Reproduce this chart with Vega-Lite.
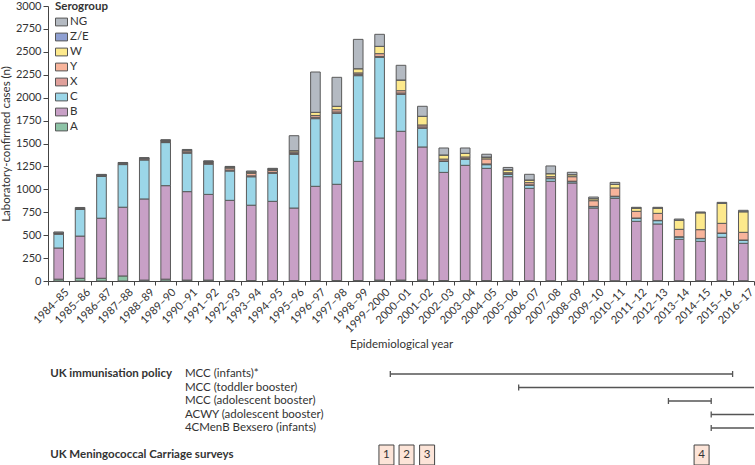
{
  "$schema": "https://vega.github.io/schema/vega-lite/v6.json",
  "padding": {"left": 0, "top": 0, "right": 0, "bottom": 0},
  "spacing": 18,
  "config": {
    "view": {"stroke": null},
    "font": "Lato",
    "axis": {
      "labelFont": "Lato",
      "titleFont": "Lato",
      "labelFontSize": 11,
      "titleFontSize": 11.5,
      "titleFontWeight": "normal",
      "labelColor": "#333333",
      "titleColor": "#333333",
      "domainColor": "#444444",
      "tickColor": "#444444",
      "grid": false
    },
    "legend": {"labelFont": "Lato", "titleFont": "Lato"},
    "text": {"font": "Lato"}
  },
  "datasets": {
    "cases": [
      {"year": "1984–85", "A": 20, "B": 340, "C": 150, "X": 10, "Y": 5, "W": 0, "Z/E": 0, "NG": 10},
      {"year": "1985–86", "A": 30, "B": 460, "C": 290, "X": 10, "Y": 0, "W": 0, "Z/E": 0, "NG": 12},
      {"year": "1986–87", "A": 30, "B": 655, "C": 455, "X": 10, "Y": 5, "W": 0, "Z/E": 0, "NG": 8},
      {"year": "1987–88", "A": 55, "B": 750, "C": 465, "X": 10, "Y": 5, "W": 0, "Z/E": 0, "NG": 8},
      {"year": "1988–89", "A": 10, "B": 885, "C": 425, "X": 10, "Y": 8, "W": 0, "Z/E": 0, "NG": 8},
      {"year": "1989–90", "A": 20, "B": 1020, "C": 470, "X": 10, "Y": 12, "W": 0, "Z/E": 0, "NG": 10},
      {"year": "1990–91", "A": 10, "B": 965, "C": 420, "X": 10, "Y": 15, "W": 5, "Z/E": 0, "NG": 10},
      {"year": "1991–92", "A": 10, "B": 935, "C": 330, "X": 8, "Y": 10, "W": 12, "Z/E": 0, "NG": 5},
      {"year": "1992–93", "A": 5, "B": 875, "C": 320, "X": 10, "Y": 22, "W": 12, "Z/E": 0, "NG": 6},
      {"year": "1993–94", "A": 5, "B": 822, "C": 310, "X": 10, "Y": 28, "W": 15, "Z/E": 0, "NG": 10},
      {"year": "1994–95", "A": 5, "B": 864, "C": 306, "X": 10, "Y": 20, "W": 15, "Z/E": 0, "NG": 9},
      {"year": "1995–96", "A": 5, "B": 791, "C": 586, "X": 10, "Y": 15, "W": 15, "Z/E": 0, "NG": 163},
      {"year": "1996–97", "A": 5, "B": 1028, "C": 738, "X": 15, "Y": 20, "W": 34, "Z/E": 0, "NG": 440},
      {"year": "1997–98", "A": 5, "B": 1050, "C": 774, "X": 15, "Y": 25, "W": 37, "Z/E": 0, "NG": 316},
      {"year": "1998–99", "A": 5, "B": 1300, "C": 935, "X": 15, "Y": 15, "W": 46, "Z/E": 0, "NG": 320},
      {"year": "1999–2000", "A": 10, "B": 1550, "C": 880, "X": 10, "Y": 30, "W": 80, "Z/E": 0, "NG": 131},
      {"year": "2000–01", "A": 10, "B": 1623, "C": 403, "X": 15, "Y": 25, "W": 117, "Z/E": 0, "NG": 160},
      {"year": "2001–02", "A": 10, "B": 1452, "C": 204, "X": 15, "Y": 21, "W": 95, "Z/E": 0, "NG": 109},
      {"year": "2002–03", "A": 5, "B": 1180, "C": 120, "X": 5, "Y": 20, "W": 45, "Z/E": 0, "NG": 76},
      {"year": "2003–04", "A": 5, "B": 1257, "C": 65, "X": 8, "Y": 18, "W": 40, "Z/E": 0, "NG": 58},
      {"year": "2004–05", "A": 5, "B": 1224, "C": 40, "X": 8, "Y": 55, "W": 20, "Z/E": 0, "NG": 31},
      {"year": "2005–06", "A": 3, "B": 1135, "C": 26, "X": 5, "Y": 12, "W": 30, "Z/E": 3, "NG": 25},
      {"year": "2006–07", "A": 3, "B": 1008, "C": 33, "X": 5, "Y": 24, "W": 29, "Z/E": 0, "NG": 62},
      {"year": "2007–08", "A": 3, "B": 1085, "C": 28, "X": 5, "Y": 17, "W": 33, "Z/E": 0, "NG": 84},
      {"year": "2008–09", "A": 3, "B": 1066, "C": 15, "X": 5, "Y": 49, "W": 22, "Z/E": 0, "NG": 26},
      {"year": "2009–10", "A": 3, "B": 793, "C": 15, "X": 3, "Y": 62, "W": 22, "Z/E": 0, "NG": 18},
      {"year": "2010–11", "A": 3, "B": 899, "C": 18, "X": 5, "Y": 90, "W": 40, "Z/E": 0, "NG": 21},
      {"year": "2011–12", "A": 3, "B": 648, "C": 33, "X": 3, "Y": 73, "W": 36, "Z/E": 0, "NG": 8},
      {"year": "2012–13", "A": 3, "B": 619, "C": 36, "X": 3, "Y": 77, "W": 58, "Z/E": 0, "NG": 8},
      {"year": "2013–14", "A": 3, "B": 452, "C": 25, "X": 3, "Y": 81, "W": 101, "Z/E": 0, "NG": 11},
      {"year": "2014–15", "A": 3, "B": 430, "C": 29, "X": 3, "Y": 95, "W": 185, "Z/E": 0, "NG": 8},
      {"year": "2015–16", "A": 3, "B": 474, "C": 43, "X": 3, "Y": 106, "W": 219, "Z/E": 0, "NG": 10},
      {"year": "2016–17", "A": 3, "B": 408, "C": 33, "X": 3, "Y": 84, "W": 225, "Z/E": 0, "NG": 15}
    ],
    "policies": [
      {"policy": "MCC (infants)*", "start": 2000.0, "end": 2016.0},
      {"policy": "MCC (toddler booster)", "start": 2006.0, "end": 2017.0},
      {"policy": "MCC (adolescent booster)", "start": 2013.0, "end": 2015.0},
      {"policy": "ACWY (adolescent booster)", "start": 2015.0, "end": 2017.0},
      {"policy": "4CMenB Bexsero (infants)", "start": 2015.0, "end": 2017.0}
    ],
    "sections": [
      {"section": "UK immunisation policy", "row": "MCC (infants)*"},
      {"section": "UK Meningococcal Carriage surveys", "row": "surveys"}
    ],
    "surveys": [
      {"survey": "1", "year": 1999.82, "row": "surveys"},
      {"survey": "2", "year": 2000.76, "row": "surveys"},
      {"survey": "3", "year": 2001.72, "row": "surveys"},
      {"survey": "4", "year": 2014.55, "row": "surveys"}
    ]
  },
  "vconcat": [
    {
      "width": 706,
      "height": 275,
      "data": {"name": "cases"},
      "transform": [
        {"fold": ["A", "B", "C", "X", "Y", "W", "Z/E", "NG"], "as": ["serogroup", "n"]},
        {"calculate": "indexof(['A','B','C','X','Y','W','Z/E','NG'], datum.serogroup)", "as": "stackOrder"}
      ],
      "mark": {"type": "bar", "width": {"band": 0.45}, "stroke": "#5a5a5a", "strokeWidth": 1},
      "encoding": {
        "x": {
          "field": "year", "type": "ordinal", "sort": null,
          "scale": {"paddingInner": 0, "paddingOuter": 0},
          "axis": {
            "title": "Epidemiological year",
            "labelAngle": -45,
            "tickBand": "extent",
            "tickSize": 4,
            "labelOffset": 4,
            "labelPadding": 1,
            "titlePadding": 4
          }
        },
        "y": {
          "field": "n", "type": "quantitative", "stack": "zero",
          "scale": {"domain": [0, 3000]},
          "axis": {
            "title": "Laboratory-confirmed cases (n)",
            "values": [0, 250, 500, 750, 1000, 1250, 1500, 1750, 2000, 2250, 2500, 2750, 3000],
            "format": "d",
            "tickSize": 5,
            "labelPadding": 2,
            "titlePadding": 4
          }
        },
        "color": {
          "field": "serogroup", "type": "nominal",
          "scale": {
            "domain": ["NG", "Z/E", "W", "Y", "X", "C", "B", "A"],
            "range": ["#B4BAC2", "#8FA0D2", "#FDE98C", "#F8B49B", "#E0A09B", "#9BD6E8", "#C8A0C6", "#8DC3A6"]
          },
          "legend": {
            "title": "Serogroup",
            "orient": "none",
            "legendX": 7,
            "legendY": -5,
            "titleFontSize": 11.5,
            "titleFontWeight": "bold",
            "titleColor": "#333333",
            "titlePadding": 3,
            "labelFontSize": 11.5,
            "labelColor": "#333333",
            "labelOffset": 2,
            "symbolType": "M-1,-0.65H1V0.65H-1Z",
            "symbolSize": 144,
            "symbolStrokeColor": "#555555",
            "symbolStrokeWidth": 1,
            "symbolOpacity": 1,
            "rowPadding": 2
          }
        },
        "order": {"field": "stackOrder", "type": "quantitative", "sort": "ascending"}
      }
    },
    {
      "width": 706,
      "height": 81,
      "layer": [
        {
          "data": {"name": "policies"},
          "mark": {"type": "rule", "stroke": "#555555", "strokeWidth": 1.3},
          "encoding": {
            "x": {"field": "start", "type": "quantitative", "scale": {"domain": [1984, 2017], "nice": false, "zero": false}, "axis": null},
            "x2": {"field": "end"},
            "y": {
              "field": "policy", "type": "nominal",
              "scale": {"type": "point", "padding": 0, "domain": ["MCC (infants)*", "MCC (toddler booster)", "MCC (adolescent booster)", "ACWY (adolescent booster)", "4CMenB Bexsero (infants)", "gap", "surveys"]},
              "axis": null
            }
          }
        },
        {
          "data": {"name": "policies"},
          "mark": {"type": "tick", "orient": "vertical", "size": 6, "thickness": 1.3, "color": "#555555", "opacity": 1},
          "encoding": {
            "x": {"field": "start", "type": "quantitative"},
            "y": {"field": "policy", "type": "nominal"}
          }
        },
        {
          "data": {"name": "policies"},
          "transform": [{"filter": "datum.end < 2017"}],
          "mark": {"type": "tick", "orient": "vertical", "size": 6, "thickness": 1.3, "color": "#555555", "opacity": 1},
          "encoding": {
            "x": {"field": "end", "type": "quantitative"},
            "y": {"field": "policy", "type": "nominal"}
          }
        },
        {
          "data": {"name": "policies"},
          "mark": {"type": "text", "align": "left", "baseline": "middle", "fontSize": 11.5, "color": "#333333"},
          "encoding": {
            "x": {"datum": 1990.4, "type": "quantitative"},
            "y": {"field": "policy", "type": "nominal"},
            "text": {"field": "policy"}
          }
        },
        {
          "data": {"name": "sections"},
          "mark": {"type": "text", "align": "left", "baseline": "middle", "fontSize": 11.5, "fontWeight": "bold", "color": "#333333"},
          "encoding": {
            "x": {"datum": 1984.1, "type": "quantitative"},
            "y": {"field": "row", "type": "nominal"},
            "text": {"field": "section"}
          }
        },
        {
          "data": {"name": "surveys"},
          "mark": {"type": "point", "shape": "M-0.75,-1H0.75V1H-0.75Z", "size": 400, "filled": true, "fill": "#FCE4D8", "stroke": "#444444", "strokeWidth": 1, "opacity": 1},
          "encoding": {
            "x": {"field": "year", "type": "quantitative"},
            "y": {"field": "row", "type": "nominal"}
          }
        },
        {
          "data": {"name": "surveys"},
          "mark": {"type": "text", "align": "center", "baseline": "middle", "fontSize": 11.5, "color": "#333333"},
          "encoding": {
            "x": {"field": "year", "type": "quantitative"},
            "y": {"field": "row", "type": "nominal"},
            "text": {"field": "survey"}
          }
        }
      ]
    }
  ]
}
